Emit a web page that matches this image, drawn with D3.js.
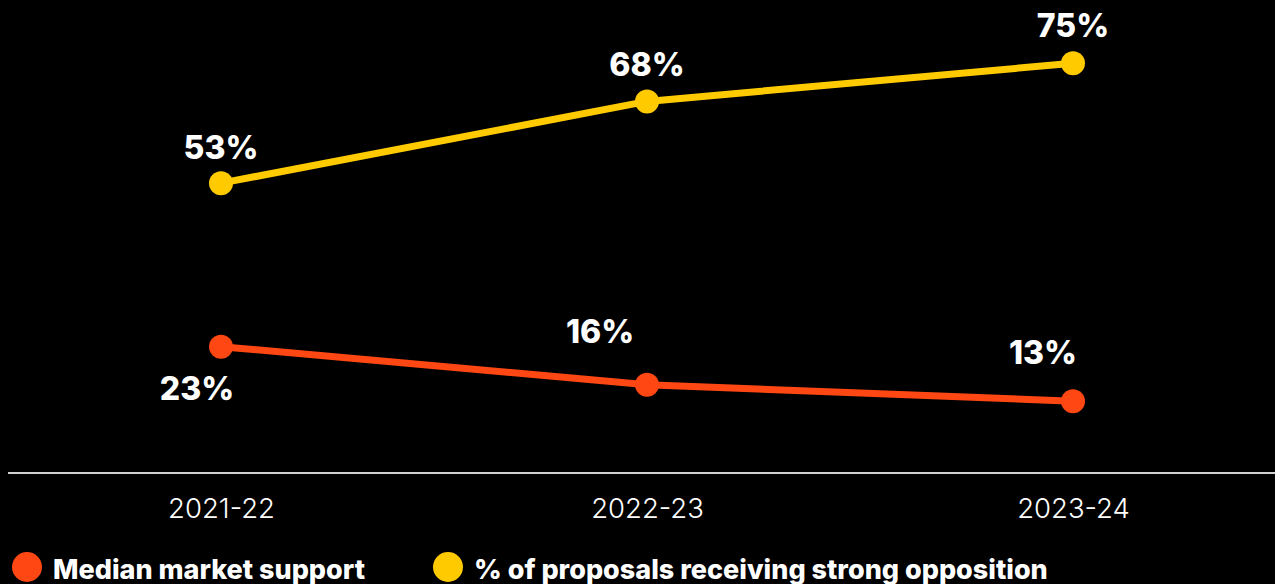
<html>
<head>
    <meta charset="utf-8">
    <title>Shareholder proposals</title>
    <style>
        body { margin: 0; background: #000; }
        svg { display: block; }
    </style>
</head>
<body>
    <script src="https://cdn.jsdelivr.net/npm/d3@7"></script>
    <script>
        var width = 1275;
        var height = 584;

        // data
        var years = ["2021-22", "2022-23", "2023-24"];
        var support = [23, 16, 13];
        var opposition = [53, 68, 75];
        var seriesNames = ["Median market support", "% of proposals receiving strong opposition"];
        var seriesColors = ["#ff4713", "#ffcb00"];

        var svg = d3.select("body")
            .append("svg")
            .attr("width", width)
            .attr("height", height)
            .style("background", "#000");

        var x = d3.scalePoint()
            .domain(years)
            .range([221, 1073]);
        var y = d3.scaleLinear()
            .domain([0, 80])
            .range([472, 36]);

        // baseline
        svg.append("line")
            .attr("x1", 8)
            .attr("x2", width)
            .attr("y1", y(0) + 1)
            .attr("y2", y(0) + 1)
            .attr("stroke", "#d0d0d0")
            .attr("stroke-width", 2);

        var xAxis = svg.append("g")
            .attr("transform", "translate(0," + y(0) + ")")
            .call(d3.axisBottom(x).tickSize(0).tickPadding(26));
        xAxis.select(".domain").remove();
        xAxis.selectAll("text")
            .attr("fill", "#fff")
            .attr("font-family", "Inter")
            .attr("font-weight", 300)
            .attr("font-size", 27.5);

        var line = d3.line()
            .x(function (d, i) { return x(years[i]); })
            .y(function (d) { return y(d); });

        var series = [
            { values: support, color: seriesColors[0], dx: [-24, -47, -30], dy: [53, -42, -37] },
            { values: opposition, color: seriesColors[1], dx: [0, 0, 0], dy: [-24, -25, -26] }
        ];

        series.forEach(function (s) {
            svg.append("path")
                .attr("d", line(s.values))
                .attr("fill", "none")
                .attr("stroke", s.color)
                .attr("stroke-width", 7);
            svg.selectAll(null)
                .data(s.values)
                .enter()
                .append("circle")
                .attr("cx", function (d, i) { return x(years[i]); })
                .attr("cy", function (d) { return y(d); })
                .attr("r", 12)
                .attr("fill", s.color);
            svg.selectAll(null)
                .data(s.values)
                .enter()
                .append("text")
                .attr("x", function (d, i) { return x(years[i]) + s.dx[i]; })
                .attr("y", function (d, i) { return y(d) + s.dy[i]; })
                .attr("text-anchor", "middle")
                .attr("fill", "#fff")
                .attr("font-family", "Inter")
                .attr("font-weight", 800)
                .attr("font-size", 32)
                .text(function (d) { return d + "%"; });
        });

        // legend
        var legendX = [27, 448];
        var legend = svg.selectAll(".legend")
            .data(seriesNames)
            .enter()
            .append("g")
            .attr("class", "legend")
            .attr("transform", function (d, i) { return "translate(" + legendX[i] + ",567)"; });
        legend.append("circle")
            .attr("r", 15)
            .attr("fill", function (d, i) { return seriesColors[i]; });
        legend.append("text")
            .attr("x", 26)
            .attr("y", 12)
            .attr("fill", "#fff")
            .attr("font-family", "Inter")
            .attr("font-weight", 800)
            .attr("font-size", 27)
            .text(function (d) { return d; });
    </script>
</body>
</html>
